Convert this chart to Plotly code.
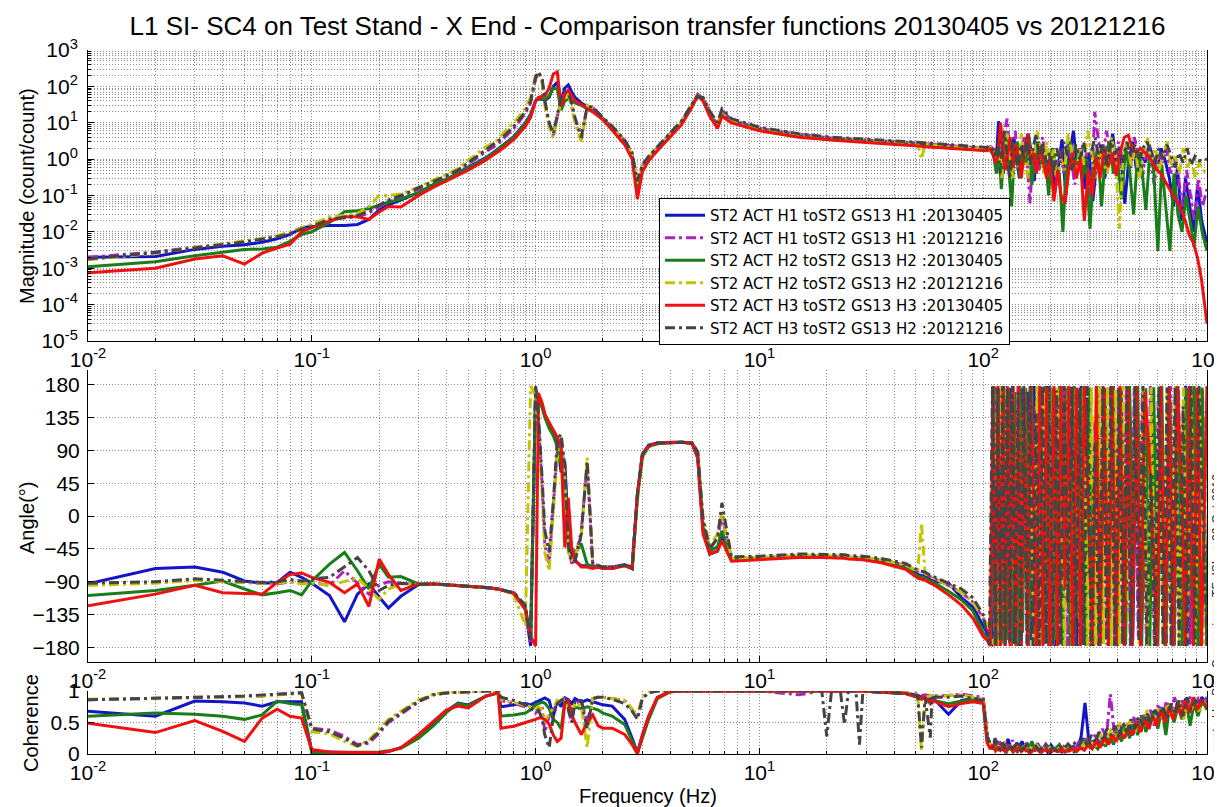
import plotly.graph_objects as go

# ---------------- data ----------------
F_LO = [0.01, 0.02, 0.03, 0.04, 0.05, 0.06, 0.07, 0.08, 0.09, 0.1,
        0.12, 0.14, 0.16, 0.18, 0.2, 0.22, 0.25, 0.3, 0.35, 0.4,
        0.45, 0.5, 0.6, 0.68, 0.7, 0.8, 0.9, 0.95, 1.0, 1.03,
        1.07, 1.1, 1.15, 1.2, 1.25, 1.3, 1.35, 1.4, 1.45, 1.5,
        1.6, 1.7, 1.8, 1.9, 2.0, 2.2, 2.5, 2.7, 2.85, 3.0,
        3.2, 3.5, 4.0, 4.5, 5.0, 5.3, 5.6, 6.0, 6.5, 6.8,
        7.5, 10, 15, 19, 20, 21, 23, 24, 25, 27,
        28, 29, 35, 45, 51, 53, 55, 58, 59, 60,
        70, 80, 90, 100]

# high-frequency sample points of each measurement (Hz)
F_HI_B = [104, 107, 111, 114, 117, 120, 123, 126, 129, 133,
          137, 141, 145, 149, 154, 159, 164, 169, 175, 181,
          187, 194, 201, 209, 217, 225, 234, 243, 253, 263,
          274, 285, 297, 309, 322, 335, 349, 364, 379, 395,
          411, 429, 447, 466, 486, 507, 529, 551, 574, 599,
          624, 651, 679, 708, 738, 769, 802, 836, 871, 908,
          947, 999]
F_HI_M = [105, 108, 112, 115, 118, 121, 124, 128, 131, 135,
          139, 143, 147, 152, 157, 162, 167, 172, 178, 184,
          190, 197, 204, 212, 220, 229, 238, 247, 257, 268,
          279, 290, 302, 315, 328, 341, 355, 370, 386, 402,
          418, 436, 454, 473, 493, 514, 536, 558, 581, 606,
          632, 659, 687, 716, 746, 777, 810, 844, 879, 916,
          955, 1000]
F_HI_G = [104.5, 108, 111.5, 114.5, 117.5, 120.5, 123.5, 127, 130, 134,
          138, 142, 146, 150, 155, 160, 165, 171, 177, 183,
          189, 196, 203, 211, 219, 227, 236, 245, 255, 266,
          277, 288, 300, 312, 325, 338, 352, 367, 382, 398,
          415, 433, 451, 470, 490, 511, 533, 555, 578, 603,
          628, 655, 683, 712, 742, 773, 806, 840, 875, 912,
          951, 1000]
F_HI_Y = [105, 108.5, 112.5, 115.5, 118, 121, 125, 128, 132, 136,
          140, 144, 148, 153, 158, 163, 168, 174, 180, 186,
          192, 199, 206, 214, 222, 231, 240, 250, 260, 271,
          282, 293, 305, 318, 331, 345, 359, 374, 390, 406,
          423, 441, 459, 478, 498, 519, 541, 563, 587, 612,
          638, 665, 693, 722, 752, 784, 817, 851, 886, 923,
          962, 1000]
F_HI_R = [104, 107.5, 110.5, 113.5, 116.5, 119.5, 122.5, 125.5, 129, 132,
          136, 140, 144, 148, 153, 158, 163, 168, 173, 179,
          185, 192, 199, 207, 215, 223, 232, 241, 251, 261,
          272, 283, 295, 307, 320, 333, 347, 362, 377, 393,
          409, 427, 445, 464, 484, 505, 527, 549, 572, 597,
          622, 649, 677, 706, 736, 767, 800, 834, 869, 906,
          945, 1000]
F_HI_K = [104, 106.5, 110, 113, 116, 119, 122, 125, 128, 131.5,
          135, 139, 143, 147.5, 152, 157, 162, 167, 172.5, 178,
          184, 191, 198, 205.5, 213, 221, 230, 239, 249, 259,
          270, 281, 292, 304, 316, 329, 343, 357, 372, 388,
          404, 421, 439, 457, 476, 496, 517, 539, 561, 585,
          610, 636, 663, 691, 720, 750, 782, 815, 849, 884,
          921, 1000]

# magnitude (count/count)
MAG_B = [2.0e-3, 2.1e-3, 3.3e-3, 4.0e-3, 4.4e-3, 5.2e-3, 6.5e-3, 8.5e-3, 1.3e-2, 1.4e-2,
         1.5e-2, 1.5e-2, 1.6e-2, 2.2e-2, 4.0e-2, 5.5e-2, 7.5e-2, 0.12, 0.2, 0.28,
         0.42, 0.6, 1.1, 1.9, 2.2, 4.2, 10, 17, 40, 45,
         44, 42, 50, 100, 130, 40, 90, 110, 70, 50,
         35, 28, 22, 17, 13, 7, 2.8, 1.1, 0.15, 0.55,
         1.0, 1.9, 4.5, 10, 30, 60, 45, 18, 8, 20,
         11, 6.5, 4.3, 3.7, 3.6, 3.5, 3.4, 3.35, 3.3, 3.2,
         3.15, 3.1, 2.9, 2.6, 2.45, 2.4, 2.35, 2.3, 2.3, 2.25,
         2.4, 2.0, 1.9, 1.8]
MAG_M = [2.0e-3, 2.8e-3, 3.8e-3, 4.5e-3, 5.5e-3, 6.5e-3, 7.5e-3, 9.5e-3, 1.3e-2, 1.5e-2,
         2.4e-2, 2.4e-2, 2.6e-2, 3.3e-2, 5.0e-2, 7.0e-2, 9.5e-2, 0.15, 0.24, 0.33,
         0.48, 0.75, 1.6, 2.6, 3.2, 7, 18, 35, 160, 240,
         150, 35, 9, 4.5, 15, 45, 65, 60, 30, 12,
         3.5, 28, 26, 18, 13, 7.5, 3.2, 1.4, 0.22, 0.65,
         1.15, 2.1, 5, 11, 32, 55, 48, 20, 9, 22,
         12, 7, 4.8, 4.0, 3.9, 3.8, 3.7, 3.65, 3.6, 3.5,
         3.45, 3.4, 3.2, 2.9, 2.75, 2.7, 2.65, 2.6, 2.55, 2.5,
         2.3, 2.15, 2.1, 2.0]
MAG_G = [1.1e-3, 1.5e-3, 2.2e-3, 2.8e-3, 3.3e-3, 3.4e-3, 3.8e-3, 5.5e-3, 8.5e-3, 1.0e-2,
         1.8e-2, 3.6e-2, 3.8e-2, 4.4e-2, 5.5e-2, 6.5e-2, 8e-2, 0.12, 0.2, 0.28,
         0.4, 0.58, 1.05, 1.8, 2.1, 4.0, 9.5, 16, 40, 48,
         46, 44, 55, 90, 85, 22, 40, 45, 40, 35,
         30, 25, 21, 16.5, 12.5, 6.8, 2.7, 1.1, 0.14, 0.5,
         0.95, 1.8, 4.2, 9.5, 28, 55, 42, 16, 7.5, 16,
         10.5, 6.3, 4.2, 3.6, 3.5, 3.45, 3.35, 3.3, 3.25, 3.15,
         3.1, 3.05, 2.85, 2.55, 2.4, 2.35, 2.3, 2.25, 2.2, 2.2,
         2.1, 1.95, 1.85, 1.75]
MAG_Y = [1.7e-3, 2.6e-3, 3.7e-3, 4.6e-3, 5.6e-3, 6.6e-3, 7.8e-3, 1.0e-2, 1.3e-2, 1.6e-2,
         2.6e-2, 2.8e-2, 3.2e-2, 5.0e-2, 0.1, 0.1, 0.11, 0.17, 0.27, 0.38,
         0.55, 0.9, 2.2, 3.4, 4.5, 10, 25, 50, 200, 230,
         120, 30, 8, 3.8, 12, 40, 60, 55, 25, 10,
         3, 30, 25, 17, 12, 7, 3, 1.3, 0.2, 0.6,
         1.1, 2.0, 4.8, 10.5, 31, 58, 47, 19, 8.5, 21,
         11.5, 6.8, 4.7, 3.9, 3.85, 3.75, 3.65, 3.6, 3.55, 3.45,
         3.4, 3.35, 3.15, 2.85, 2.7, 1.0, 2.6, 2.55, 2.5, 2.45,
         2.2, 2.1, 2.05, 1.95]
MAG_R = [7.5e-4, 1.0e-3, 1.8e-3, 2.2e-3, 1.3e-3, 2.6e-3, 3.6e-3, 4.6e-3, 1.0e-2, 1.3e-2,
         2.0e-2, 2.6e-2, 2.6e-2, 2.2e-2, 3.5e-2, 5.0e-2, 4.8e-2, 0.1, 0.17, 0.25,
         0.36, 0.5, 0.95, 1.6, 1.8, 3.5, 8, 14, 40, 50,
         52, 55, 90, 220, 250, 28, 60, 80, 55, 40,
         32, 24, 20, 15.5, 12, 6.2, 2.5, 1.0, 0.08, 0.45,
         0.9, 1.7, 4.0, 9, 27, 55, 40, 15, 7, 15,
         10, 6.0, 4.0, 3.45, 3.35, 3.3, 3.2, 3.15, 3.1, 3.0,
         2.95, 2.9, 2.75, 2.45, 2.3, 2.25, 2.2, 2.15, 2.1, 2.1,
         2.0, 1.9, 1.8, 1.7]
MAG_K = [1.8e-3, 2.7e-3, 3.6e-3, 4.4e-3, 5.3e-3, 6.3e-3, 7.3e-3, 9.0e-3, 1.2e-2, 1.4e-2,
         2.2e-2, 2.5e-2, 2.8e-2, 3.8e-2, 5.5e-2, 7.5e-2, 0.1, 0.16, 0.25, 0.35,
         0.5, 0.8, 1.8, 3.0, 3.6, 8, 20, 40, 180, 250,
         160, 40, 10, 5, 18, 50, 70, 65, 35, 14,
         4, 28, 27, 19, 14, 8, 3.4, 1.5, 0.25, 0.7,
         1.2, 2.2, 5.2, 11.5, 33, 52, 50, 21, 10, 24,
         13, 7.5, 5.0, 4.2, 4.1, 4.0, 3.9, 3.85, 3.8, 3.7,
         3.65, 3.6, 3.4, 3.05, 2.9, 2.85, 2.8, 2.75, 2.7, 2.65,
         2.45, 2.3, 2.2, 2.1]

MAGH_B = [1.8, 2.0, 1.6, 0.6, 11, 2.5, 0.4, 1.5, 3, 0.5,
          4, 1.2, 0.3, 2.5, 0.8, 5, 1.5, 0.25, 3, 0.7,
          2, 0.5, 1.5, 0.12, 0.8, 3.5, 0.1, 1.2, 6, 0.6,
          2, 0.15, 1.5, 0.07, 0.8, 2.5, 0.3, 1.2, 5, 0.5,
          2, 0.06, 0.9, 3, 0.4, 1.5, 0.8, 2.5, 1.2, 0.5,
          2, 0.9, 0.3, 0.05, 0.6, 0.02, 0.3, 0.05, 0.01, 0.2,
          0.02, 0.005]
MAGH_M = [2.0, 2.2, 1.8, 1.0, 3, 0.5, 5, 13, 2, 0.4,
          6, 1, 0.3, 4, 0.9, 0.06, 2, 1.5, 0.5, 4,
          1, 0.3, 2, 0.6, 1.8, 0.4, 3, 1, 0.2, 2,
          0.5, 1.5, 0.03, 20, 3, 0.8, 6, 1.5, 0.4, 3,
          1, 2.5, 0.5, 4, 1.5, 0.3, 2, 1, 0.2, 1.5,
          0.8, 2, 0.4, 1, 0.3, 0.05, 0.5, 0.1, 0.02, 0.3,
          0.05, 0.15]
MAGH_G = [1.9, 1.7, 1.2, 0.4, 2, 0.15, 1.5, 4, 0.6, 0.05,
          1.8, 3, 0.3, 1.5, 0.7, 4, 0.2, 1.2, 3, 0.6,
          1.5, 0.1, 2, 0.7, 0.4, 0.01, 1.2, 3, 0.5, 1.5,
          0.3, 1, 0.012, 0.8, 2, 0.05, 1.5, 3, 0.4, 1,
          0.08, 2, 0.5, 0.03, 1.5, 0.6, 0.04, 1.5, 0.5, 0.003,
          0.7, 0.05, 0.003, 0.4, 0.03, 0.01, 0.1, 0.02, 0.004, 0.05,
          0.01, 0.003]
MAGH_Y = [1.9, 2.1, 1.5, 0.8, 2.5, 0.3, 1.5, 5, 1, 0.3,
          2, 0.6, 5, 1.2, 0.3, 2, 0.8, 6, 1.5, 0.4,
          3, 0.8, 1.8, 0.2, 1, 0.5, 5, 1.5, 0.4, 2,
          0.7, 6, 1.5, 0.3, 2, 0.8, 0.4, 4, 1.2, 0.012,
          1.5, 3, 0.6, 2, 0.3, 1.2, 4, 0.8, 2, 0.5,
          1.5, 3, 0.6, 1.2, 0.4, 2, 0.6, 1, 0.3, 0.8,
          0.5, 0.4]
MAGH_R = [1.7, 1.9, 1.4, 0.8, 1.2, 10, 2, 0.5, 1.5, 4,
          0.6, 2.5, 1, 0.3, 1.8, 5, 0.8, 1.5, 0.4, 2,
          0.9, 0.3, 1.2, 0.07, 0.5, 0.1, 0.06, 0.5, 1.5, 0.3,
          1, 0.02, 0.5, 0.1, 1.2, 0.3, 2, 0.6, 1.5, 0.35,
          1.5, 4, 4.5, 2, 1.5, 2, 1.5, 1.2, 0.8, 0.5,
          0.4, 0.25, 0.15, 0.1, 0.07, 0.04, 0.02, 0.008, 0.005, 0.002,
          5e-4, 3e-5]
MAGH_K = [2.1, 2.3, 1.8, 1.2, 3, 0.4, 2.5, 6, 1, 0.3,
          3, 1.5, 0.5, 2.5, 1, 4, 0.7, 2, 5, 1,
          2.5, 0.8, 1.5, 0.4, 2, 0.8, 3, 1.2, 0.5, 2.5,
          1, 3, 0.6, 1.5, 4, 1, 2.5, 0.7, 3, 1.5,
          2, 0.8, 3, 1.2, 2.5, 1, 2, 3, 1.5, 0.8,
          2, 1, 2.5, 1.2, 0.6, 1.5, 0.8, 2, 0.7, 1.2,
          0.9, 1.0]

# phase (degrees)
PH_B = [-93, -72, -70, -77, -89, -92, -91, -77, -84, -92,
        -109, -145, -107, -93, -111, -126, -110, -94, -93, -94,
        -95, -96, -98, -100, -101, -106, -128, -178, 172, 165,
        150, 138, 125, 115, 100, 60, 75, -20, -55, -62,
        -68, -68, -68, -70, -70, -70, -67, -70, 30, 85,
        97, 100, 101, 101, 99, 80, -20, -52, -48, -25,
        -60, -58, -55, -55, -55, -56, -56, -56, -57, -57,
        -57, -58, -62, -70, -80, -82, -83, -87, -88, -89,
        -92, -112, -125, -150]
PH_M = [-92, -91, -88, -90, -91, -92, -93, -90, -92, -91,
        -95, -75, -92, -107, -95, -90, -92, -94, -93, -94,
        -95, -96, -98, -100, -101, -105, -125, -175, 175, 130,
        40, -40, -65, 10, 90, 105, 60, -45, -65, -60,
        -20, 70, -65, -68, -70, -70, -68, -72, 25, 82,
        96, 100, 101, 101, 100, 85, -10, -45, -30, 0,
        -58, -57, -54, -54, -54, -55, -55, -55, -56, -56,
        -56, -57, -60, -67, -76, -78, -79, -83, -84, -85,
        -95, -105, -118, -140]
PH_G = [-109, -102, -95, -89, -100, -108, -105, -102, -108, -89,
        -66, -50, -75, -100, -66, -84, -83, -93, -93, -94,
        -95, -96, -98, -100, -101, -106, -126, -165, 168, 160,
        148, 135, 120, 110, 95, 70, 40, -10, -45, -50,
        -38, -66, -70, -70, -72, -72, -68, -72, 28, 80,
        95, 99, 100, 101, 100, 88, -15, -48, -42, -20,
        -60, -58, -55, -55, -55, -56, -56, -56, -57, -57,
        -57, -58, -62, -71, -82, -84, -85, -89, -90, -91,
        -103, -115, -130, -160]
PH_Y = [-95, -92, -88, -90, -91, -92, -92, -90, -93, -92,
        -95, -90, -85, -100, -114, -100, -93, -94, -93, -94,
        -95, -96, -98, -100, -101, -108, -150, 178, 165, 110,
        30, -50, -75, 5, 80, 100, 50, -50, -60, -55,
        -30, 80, -65, -68, -70, -70, -68, -73, 20, 80,
        95, 100, 101, 101, 100, 88, 0, -40, -25, 5,
        -58, -57, -54, -54, -54, -55, -55, -55, -56, -56,
        -56, -57, -60, -67, -76, -10, -79, -83, -84, -85,
        -95, -105, -118, -140]
PH_R = [-123, -107, -95, -105, -106, -107, -91, -80, -78, -84,
        -91, -105, -93, -124, -59, -80, -102, -93, -93, -94,
        -95, -96, -98, -100, -101, -106, -128, -165, -178, 168,
        155, 140, 128, 118, 108, 95, -43, 25, -43, -60,
        -70, -70, -72, -70, -72, -72, -68, -72, 30, 85,
        96, 100, 101, 101, 100, 80, -25, -52, -48, -34,
        -62, -60, -57, -57, -57, -58, -58, -58, -59, -59,
        -59, -60, -64, -73, -85, -87, -88, -92, -93, -94,
        -108, -122, -140, -165]
PH_K = [-92, -90, -86, -88, -90, -91, -90, -87, -89, -86,
        -84, -70, -57, -75, -102, -95, -92, -94, -93, -94,
        -95, -96, -98, -100, -101, -105, -122, -170, 178, 140,
        50, -20, -50, 20, 105, 112, 70, -43, -62, -62,
        -25, 75, -65, -68, -70, -70, -67, -72, 28, 83,
        96, 100, 101, 101, 100, 88, -5, -45, -30, 18,
        -56, -55, -52, -52, -52, -53, -53, -53, -54, -54,
        -54, -55, -58, -65, -74, -76, -77, -81, -82, -83,
        -92, -100, -112, -135]

PHH_B = [-160, -170, -178, 175, -175, 170, -170, 160, -120, 175,
         -175, 100, -178, 175, -60, 170, -170, 178, -178, 120,
         -100, 178, 60, -178, 175, -175, 170, -50, 175, -178,
         178, -150, 150, -178, 170, -170, 175, -175, 178, -100,
         160, -178, 175, -170, 178, -178, 40, -178, 176, -175,
         170, -160, 178, -178, 175, -150, 178, -176, 174, -178,
         170, -170]
PHH_M = [-155, -168, -175, 178, -178, 176, -172, 178, -176, 170,
         -170, 178, -150, 172, -176, 175, -178, 150, -178, 178,
         -175, 170, -178, 175, -120, 178, -178, 178, -170, 175,
         -176, 178, -178, 130, -178, 175, -170, 178, -178, 176,
         -174, 178, -178, 175, -165, 172, -178, 178, -178, 170,
         -20, -176, 178, -178, 175, -178, 178, -175, 176, -178,
         175, -178]
PHH_G = [-165, -175, 178, -178, 175, -175, 178, -170, 176, -178,
         170, -178, 178, -160, 175, -178, 178, -178, 172, -175,
         178, -178, 175, -170, 178, -178, 176, -178, 178, -140,
         175, -178, 176, -178, 178, -175, 170, -178, 178, -178,
         175, -176, 178, -60, 178, -178, 175, -178, 176, -178,
         178, -178, 160, -178, 178, -178, 175, -100, 178, -178,
         176, -178]
PHH_Y = [-150, -165, -178, 178, -176, 178, -178, 175, -178, 178,
         -175, 178, -178, 176, -178, 178, -176, 178, -178, 170,
         -150, 178, -178, 178, 50, -178, 178, -178, 175, -178,
         178, -178, 176, -178, 178, -176, 178, -178, 175, -178,
         178, -100, -178, 178, -176, 178, -178, 176, -178, 178,
         -176, 178, -178, 178, -178, 176, -170, 178, -178, 178,
         -176, 178]
PHH_R = [-170, -178, 178, -178, 178, -178, 178, -178, 176, -178,
         178, -178, 178, -178, 170, -178, 178, 30, -178, 178,
         -178, 176, -178, 178, -178, 178, -100, 178, -178, 176,
         -178, 178, 20, -178, 178, -178, 176, -178, 178, -178,
         178, -178, 176, -178, 178, -178, 170, 100, -20, -178,
         178, -178, 176, -178, 178, 60, -178, 178, -178, 176,
         -178, 178]
PHH_K = [-165, -176, 178, -178, 175, -170, 178, -178, 176, -172,
         178, -178, 170, -178, 178, -175, 178, -178, 140, -178,
         178, -176, 178, -178, 172, -178, 178, -120, 178, -178,
         176, -178, 178, -178, 100, -178, 178, -176, 178, -178,
         174, -178, 178, -178, 178, -170, 178, -178, 60, -178,
         178, -178, 176, -178, 178, -178, 150, -178, 178, -176,
         178, -178]

# coherence
COH_B = [0.68, 0.6, 0.84, 0.83, 0.81, 0.76, 0.83, 0.83, 0.83, 0.04,
         0.03, 0.03, 0.02, 0.02, 0.02, 0.04, 0.1, 0.26, 0.47, 0.68,
         0.81, 0.78, 0.92, 0.97, 0.75, 0.78, 0.8, 0.78, 0.82, 0.85,
         0.88, 0.89, 0.85, 0.6, 0.85, 0.75, 0.89, 0.86, 0.8, 0.88,
         0.82, 0.86, 0.83, 0.8, 0.78, 0.76, 0.55, 0.25, 0.02, 0.3,
         0.6, 0.9, 0.99, 1, 1, 1, 1, 1, 1, 1,
         1, 1, 1, 1, 1, 1, 1, 1, 1, 1,
         1, 1, 0.98, 0.97, 0.93, 0.9, 0.92, 0.85, 0.9, 0.88,
         0.63, 0.85, 0.88, 0.85]
COH_M = [0.86, 0.88, 0.9, 0.9, 0.91, 0.92, 0.95, 0.96, 0.97, 0.41,
         0.38, 0.28, 0.15, 0.17, 0.33, 0.5, 0.63, 0.83, 0.94, 0.97,
         0.98, 0.99, 1, 1, 0.85, 0.8, 0.75, 0.7, 0.65, 0.7,
         0.72, 0.35, 0.6, 0.7, 0.8, 0.85, 0.88, 0.7, 0.5, 0.8,
         0.85, 0.5, 0.88, 0.9, 0.9, 0.88, 0.85, 0.7, 0.6, 0.9,
         0.98, 1, 1, 1, 1, 1, 1, 1, 1, 1,
         1, 1, 0.94, 1, 1, 1, 1, 1, 1, 1,
         1, 1, 0.98, 0.97, 0.95, 0.93, 0.94, 0.92, 0.93, 0.92,
         0.93, 0.95, 0.92, 0.9]
COH_G = [0.6, 0.65, 0.63, 0.6, 0.55, 0.62, 0.84, 0.8, 0.78, 0.02,
         0.02, 0.02, 0.02, 0.02, 0.03, 0.05, 0.09, 0.25, 0.45, 0.66,
         0.8, 0.77, 0.92, 0.97, 0.6, 0.62, 0.65, 0.7, 0.78, 0.8,
         0.82, 0.81, 0.72, 0.55, 0.5, 0.4, 0.84, 0.78, 0.7, 0.74,
         0.72, 0.75, 0.73, 0.7, 0.65, 0.6, 0.47, 0.2, 0.02, 0.25,
         0.55, 0.88, 0.99, 1, 1, 1, 1, 1, 1, 1,
         1, 1, 1, 1, 1, 1, 1, 1, 1, 1,
         1, 1, 0.98, 0.96, 0.9, 0.88, 0.9, 0.82, 0.86, 0.85,
         0.8, 0.84, 0.86, 0.82]
COH_Y = [0.87, 0.88, 0.9, 0.9, 0.91, 0.92, 0.94, 0.95, 0.96, 0.35,
         0.32, 0.2, 0.12, 0.22, 0.4, 0.55, 0.68, 0.86, 0.95, 0.98,
         0.98, 0.99, 1, 1, 0.86, 0.82, 0.78, 0.75, 0.72, 0.75,
         0.7, 0.5, 0.65, 0.72, 0.85, 0.8, 0.9, 0.75, 0.6, 0.82,
         0.75, 0.1, 0.88, 0.9, 0.9, 0.88, 0.85, 0.72, 0.6, 0.9,
         0.98, 1, 1, 1, 1, 1, 1, 1, 1, 1,
         1, 1, 1, 1, 1, 1, 1, 1, 1, 1,
         1, 1, 0.98, 0.97, 0.94, 0.05, 0.9, 0.92, 0.93, 0.91,
         0.92, 0.94, 0.9, 0.88]
COH_R = [0.49, 0.34, 0.53, 0.36, 0.2, 0.57, 0.71, 0.6, 0.57, 0.07,
         0.03, 0.03, 0.02, 0.02, 0.02, 0.04, 0.1, 0.31, 0.52, 0.7,
         0.76, 0.73, 0.92, 0.97, 0.41, 0.44, 0.5, 0.52, 0.55, 0.57,
         0.57, 0.55, 0.47, 0.3, 0.2, 0.25, 0.8, 0.84, 0.62, 0.5,
         0.31, 0.5, 0.62, 0.45, 0.41, 0.41, 0.31, 0.15, 0.0, 0.3,
         0.6, 0.9, 0.99, 1, 1, 1, 1, 1, 1, 1,
         1, 1, 1, 1, 1, 1, 1, 1, 1, 1,
         1, 1, 0.98, 0.96, 0.9, 0.87, 0.9, 0.8, 0.85, 0.84,
         0.75, 0.8, 0.83, 0.8]
COH_K = [0.86, 0.88, 0.9, 0.91, 0.92, 0.93, 0.95, 0.96, 0.97, 0.4,
         0.35, 0.25, 0.13, 0.2, 0.35, 0.52, 0.65, 0.84, 0.94, 0.97,
         0.98, 0.99, 1, 1, 0.9, 0.85, 0.78, 0.72, 0.68, 0.7,
         0.55, 0.3, 0.1, 0.6, 0.8, 0.85, 0.89, 0.72, 0.5, 0.85,
         0.85, 0.4, 0.88, 0.9, 0.9, 0.87, 0.8, 0.68, 0.55, 0.88,
         0.97, 1, 1, 1, 1, 1, 1, 1, 1, 1,
         1, 0.99, 1, 1, 0.28, 1, 1, 0.47, 1, 1,
         0.15, 1, 0.98, 0.96, 0.93, 0.1, 0.9, 0.26, 0.88, 0.9,
         0.9, 0.92, 0.88, 0.85]

COHH_B = [0.3, 0.15, 0.12, 0.22, 0.08, 0.16, 0.05, 0.12, 0.24, 0.1,
          0.06, 0.18, 0.09, 0.2, 0.1, 0.04, 0.13, 0.07, 0.17, 0.05,
          0.11, 0.03, 0.14, 0.06, 0.09, 0.03, 0.08, 0.05, 0.12, 0.06,
          0.28, 0.81, 0.18, 0.1, 0.26, 0.12, 0.3, 0.16, 0.33, 0.22,
          0.42, 0.26, 0.48, 0.3, 0.56, 0.36, 0.62, 0.4, 0.68, 0.5,
          0.74, 0.45, 0.78, 0.55, 0.83, 0.6, 0.88, 0.66, 0.84, 0.72,
          0.9, 0.8]
COHH_M = [0.25, 0.12, 0.18, 0.08, 0.2, 0.1, 0.06, 0.15, 0.09, 0.22,
          0.1, 0.05, 0.14, 0.08, 0.18, 0.06, 0.1, 0.04, 0.12, 0.07,
          0.15, 0.05, 0.1, 0.08, 0.04, 0.12, 0.06, 0.14, 0.05, 0.2,
          0.1, 0.25, 0.15, 0.3, 0.2, 0.4, 0.25, 0.95, 0.3, 0.45,
          0.35, 0.5, 0.3, 0.6, 0.4, 0.65, 0.5, 0.7, 0.45, 0.8,
          0.55, 0.85, 0.6, 0.9, 0.7, 0.85, 0.65, 0.92, 0.75, 0.88,
          0.8, 0.9]
COHH_G = [0.2, 0.1, 0.08, 0.15, 0.05, 0.12, 0.08, 0.03, 0.1, 0.06,
          0.14, 0.04, 0.09, 0.12, 0.05, 0.08, 0.2, 0.06, 0.1, 0.03,
          0.08, 0.12, 0.05, 0.09, 0.15, 0.04, 0.06, 0.1, 0.03, 0.08,
          0.12, 0.2, 0.1, 0.15, 0.08, 0.2, 0.12, 0.3, 0.15, 0.35,
          0.2, 0.45, 0.25, 0.5, 0.3, 0.6, 0.35, 0.55, 0.65, 0.4,
          0.7, 0.3, 0.8, 0.5, 0.75, 0.55, 0.85, 0.45, 0.8, 0.6,
          0.85, 0.7]
COHH_Y = [0.22, 0.14, 0.1, 0.06, 0.16, 0.1, 0.2, 0.07, 0.12, 0.05,
          0.15, 0.1, 0.06, 0.12, 0.04, 0.1, 0.07, 0.14, 0.05, 0.09,
          0.04, 0.1, 0.06, 0.13, 0.05, 0.09, 0.15, 0.06, 0.1, 0.08,
          0.15, 0.1, 0.2, 0.12, 0.35, 0.15, 0.25, 0.4, 0.2, 0.5,
          0.3, 0.45, 0.55, 0.35, 0.6, 0.4, 0.7, 0.5, 0.6, 0.75,
          0.5, 0.8, 0.6, 0.7, 0.85, 0.55, 0.8, 0.7, 0.9, 0.65,
          0.85, 0.75]
COHH_R = [0.18, 0.08, 0.15, 0.05, 0.1, 0.06, 0.14, 0.04, 0.08, 0.12,
          0.03, 0.07, 0.1, 0.04, 0.08, 0.05, 0.02, 0.06, 0.1, 0.03,
          0.05, 0.08, 0.02, 0.06, 0.04, 0.1, 0.03, 0.05, 0.08, 0.04,
          0.1, 0.06, 0.15, 0.08, 0.2, 0.1, 0.25, 0.15, 0.3, 0.2,
          0.35, 0.25, 0.4, 0.3, 0.5, 0.35, 0.55, 0.4, 0.6, 0.45,
          0.7, 0.5, 0.75, 0.55, 0.8, 0.6, 0.85, 0.65, 0.9, 0.7,
          0.85, 0.75]
COHH_K = [0.28, 0.2, 0.1, 0.25, 0.12, 0.08, 0.18, 0.1, 0.05, 0.15,
          0.08, 0.12, 0.2, 0.06, 0.1, 0.14, 0.05, 0.09, 0.12, 0.06,
          0.1, 0.15, 0.07, 0.1, 0.05, 0.12, 0.08, 0.16, 0.1, 0.2,
          0.15, 0.25, 0.12, 0.3, 0.18, 0.35, 0.22, 0.4, 0.3, 0.45,
          0.25, 0.5, 0.35, 0.55, 0.4, 0.6, 0.45, 0.65, 0.5, 0.7,
          0.6, 0.75, 0.55, 0.8, 0.65, 0.85, 0.6, 0.9, 0.7, 0.85,
          0.8, 0.9]

NAMES = ["ST2 ACT H1 toST2 GS13 H1 :20130405",
         "ST2 ACT H1 toST2 GS13 H1 :20121216",
         "ST2 ACT H2 toST2 GS13 H2 :20130405",
         "ST2 ACT H2 toST2 GS13 H2 :20121216",
         "ST2 ACT H3 toST2 GS13 H3 :20130405",
         "ST2 ACT H3 toST2 GS13 H2 :20121216"]
COLORS = ["#1515c8", "#b020c0", "#1a7d1a", "#c4c400", "#f01010", "#444444"]
DASHDOT = "10px,4px,3px,4px"
DASHES = ["solid", DASHDOT, "solid", DASHDOT, "solid", DASHDOT]

FREQS = [F_LO + F_HI_B, F_LO + F_HI_M, F_LO + F_HI_G, F_LO + F_HI_Y, F_LO + F_HI_R, F_LO + F_HI_K]
MAGS = [MAG_B + MAGH_B, MAG_M + MAGH_M, MAG_G + MAGH_G, MAG_Y + MAGH_Y, MAG_R + MAGH_R, MAG_K + MAGH_K]
PHS = [PH_B + PHH_B, PH_M + PHH_M, PH_G + PHH_G, PH_Y + PHH_Y, PH_R + PHH_R, PH_K + PHH_K]
COHS = [COH_B + COHH_B, COH_M + COHH_M, COH_G + COHH_G, COH_Y + COHH_Y, COH_R + COHH_R, COH_K + COHH_K]

TITLE = "L1 SI- SC4 on Test Stand - X End - Comparison transfer functions 20130405 vs 20121216"

# ---------------- figure ----------------
W, H = 1222, 807
L, R = 80, 23
FONT = "Liberation Sans, Arial, Helvetica, sans-serif"
GRID = "#8a8a8a"
GDASH = "1px,2px"


def py(p):
    return 1 - p / H


def px(p):
    return (p - L) / (W - L - R)


fig = go.Figure()
for i in range(6):
    common = dict(x=FREQS[i], mode="lines", name=NAMES[i],
                  line=dict(color=COLORS[i], width=3, dash=DASHES[i]))
    fig.add_trace(go.Scatter(y=MAGS[i], xaxis="x", yaxis="y", showlegend=True, **common))
    fig.add_trace(go.Scatter(y=PHS[i], xaxis="x2", yaxis="y2", showlegend=False, **common))
    fig.add_trace(go.Scatter(y=COHS[i], xaxis="x3", yaxis="y3", showlegend=False, **common))

decades = [0.01, 0.1, 1, 10, 100]
XT = [0.01, 0.1, 1, 10, 100, 1000]
XTT = ["10<sup>-2</sup>", "10<sup>-1</sup>", "10<sup>0</sup>", "10<sup>1</sup>",
       "10<sup>2</sup>", "10<sup>3</sup>"]
XM = [d * k for d in decades for k in range(2, 10)]
YT = [1e-5, 1e-4, 1e-3, 1e-2, 1e-1, 1, 10, 100, 1000]
YTT = ["10<sup>-5</sup>", "10<sup>-4</sup>", "10<sup>-3</sup>", "10<sup>-2</sup>",
       "10<sup>-1</sup>", "10<sup>0</sup>", "10<sup>1</sup>", "10<sup>2</sup>",
       "10<sup>3</sup>"]
YM = [d * k for d in [1e-5, 1e-4, 1e-3, 1e-2, 1e-1, 1, 10, 100] for k in range(2, 10)]

TICKFONT = dict(size=21, color="black", family=FONT)


def xaxis(anchor):
    return dict(type="log", range=[-2, 3], anchor=anchor, domain=[0, 1],
                tickmode="array", tickvals=XT, ticktext=XTT,
                ticks="inside", ticklen=6, tickcolor="black", tickwidth=1,
                showline=True, linecolor="black", linewidth=1, mirror=False,
                showgrid=True, gridcolor=GRID, griddash=GDASH, gridwidth=1,
                zeroline=False,
                minor=dict(tickmode="array", tickvals=XM, ticks="inside", ticklen=3,
                           tickcolor="black", showgrid=True, gridcolor=GRID,
                           griddash=GDASH, gridwidth=1),
                tickfont=TICKFONT)


def yaxis(anchor, dom, **kw):
    d = dict(anchor=anchor, domain=dom, ticks="inside", ticklen=6, tickcolor="black",
             showline=True, linecolor="black", linewidth=1, mirror=True,
             showgrid=True, gridcolor=GRID, griddash=GDASH, gridwidth=1,
             zeroline=False, tickfont=TICKFONT)
    d.update(kw)
    return d


fig.update_layout(
    width=W, height=H,
    margin=dict(l=L, r=R, t=0, b=0, autoexpand=False),
    paper_bgcolor="white", plot_bgcolor="white",
    font=dict(family=FONT, color="black", size=20),
    title=dict(text=TITLE, x=0.5, xref="paper", xanchor="center",
               y=py(18), yref="container", yanchor="middle",
               font=dict(size=26, color="black", family=FONT)),
    xaxis=xaxis("y"), xaxis2=xaxis("y2"), xaxis3=xaxis("y3"),
    yaxis=yaxis("x", [py(333), py(42)], type="log", range=[-5, 3],
                tickmode="array", tickvals=YT, ticktext=YTT, ticklabelstandoff=5,
                minor=dict(tickmode="array", tickvals=YM, ticks="inside", ticklen=3,
                           tickcolor="black", showgrid=True, gridcolor=GRID,
                           griddash=GDASH, gridwidth=1)),
    yaxis2=yaxis("x2", [py(654), py(362)], range=[-200, 200], tickmode="array",
                 tickvals=[-180, -135, -90, -45, 0, 45, 90, 135, 180], ticklabelstandoff=3),
    yaxis3=yaxis("x3", [py(746), py(683)], range=[0, 1], tickmode="array",
                 tickvals=[0, 0.5, 1], ticktext=["0", "0.5", "1"], ticklabelstandoff=3),
    legend=dict(x=px(1002), xanchor="right", y=py(337), yanchor="bottom",
                xref="paper", yref="paper",
                bgcolor="white", bordercolor="black", borderwidth=1,
                font=dict(size=15, color="black", family="DejaVu Sans, Liberation Sans, sans-serif"),
                tracegroupgap=0, itemwidth=40),
    annotations=[
        dict(text="Magnitude (count/count)", x=px(19), y=py(188), xref="paper", yref="paper",
             textangle=-90, showarrow=False, font=dict(size=20), xanchor="center", yanchor="middle"),
        dict(text="Angle(°)", x=px(19), y=py(510), xref="paper", yref="paper",
             textangle=-90, showarrow=False, font=dict(size=20), xanchor="center", yanchor="middle"),
        dict(text="Coherence", x=px(23), y=py(715), xref="paper", yref="paper",
             textangle=-90, showarrow=False, font=dict(size=20), xanchor="center", yanchor="middle"),
        dict(text="Frequency (Hz)", x=0.5, y=py(788), xref="paper", yref="paper",
             showarrow=False, font=dict(size=20), xanchor="center", yanchor="middle"),
        dict(text="created by Plot_Comparison_TF_ISI on 28-Oct-2013", x=px(1209), y=py(607),
             xref="paper", yref="paper", textangle=-90, showarrow=False,
             font=dict(size=12, color="#222222"), xanchor="center", yanchor="middle"),
    ],
)

fig.write_html("out.html")
